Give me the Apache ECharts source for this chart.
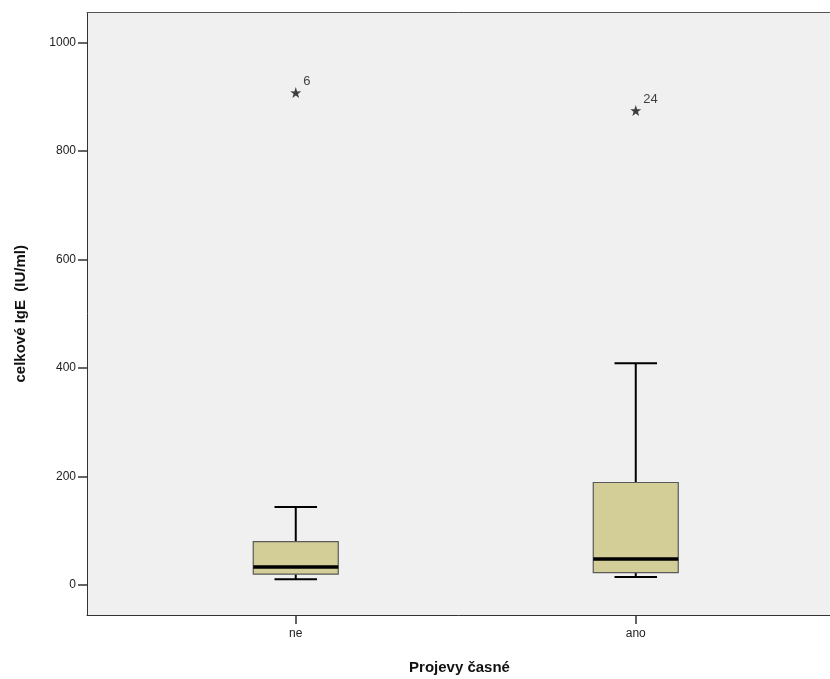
<!DOCTYPE html>
<html>
<head>
<meta charset="utf-8">
<script src="https://cdn.jsdelivr.net/npm/echarts@6/dist/echarts.min.js"></script>
<style>html,body{margin:0;padding:0;background:#fff;}#c{width:830px;height:679px;}</style>
</head>
<body>
<div id="c"></div>
<script>
var categories = ['ne', 'ano'];
// [min, Q1, median, Q3, max]
var boxValues = [
  [10.5, 20, 33, 80, 144],
  [15, 23, 48, 189, 409]
];
var outliers = [
  [0, 908, '6'],
  [1, 875, '24']
];
var yTicks = [0, 200, 400, 600, 800, 1000];

var boxData = boxValues.map(function (v, i) { return [i].concat(v); });

var chart = echarts.init(document.getElementById('c'), null, {renderer: 'canvas'});
var font = '"Liberation Sans", Arial, sans-serif';
var starPath = 'path://M50,0 L61.8,35.3 L97.6,34.5 L68.8,56.2 L79.4,90.5 L50,69.8 L20.6,90.5 L31.2,56.2 L2.4,34.5 L38.2,35.3 Z';
var gridW = 745;

chart.setOption({
  animation: false,
  backgroundColor: '#ffffff',
  grid: {
    left: 87, top: 12.5, width: gridW, height: 602.5,
    outerBoundsMode: 'none', containLabel: false,
    show: true, backgroundColor: '#f0f0f0', borderWidth: 0
  },
  xAxis: [{
    type: 'value',
    min: -0.614, max: -0.614 + gridW / 340,
    name: 'Projevy časné',
    nameLocation: 'middle',
    nameGap: 45,
    nameTextStyle: {fontFamily: font, fontSize: 15, fontWeight: 'bold', color: '#111'},
    axisLine: {show: true, onZero: false, lineStyle: {color: '#333', width: 1}},
    axisTick: {show: true, length: 9, customValues: [0, 1], lineStyle: {color: '#333', width: 1.5}},
    axisLabel: {
      customValues: [0, 1], fontFamily: font, fontSize: 12, color: '#222', margin: 13,
      formatter: function (v) { return categories[Math.round(v)] || ''; }
    },
    splitLine: {show: false}
  }, {
    type: 'value', position: 'top',
    min: -0.614, max: -0.614 + gridW / 340,
    axisLine: {show: true, onZero: false, lineStyle: {color: '#555', width: 1}},
    axisTick: {show: false}, axisLabel: {show: false}, splitLine: {show: false}
  }],
  yAxis: {
    type: 'value',
    min: -55.3, max: 1055.7,
    name: 'celkové IgE  (IU/ml)',
    nameLocation: 'middle',
    nameGap: 59,
    nameTextStyle: {fontFamily: font, fontSize: 15, fontWeight: 'bold', color: '#111'},
    axisLine: {show: true, onZero: false, lineStyle: {color: '#333', width: 1}},
    axisTick: {show: true, length: 9, customValues: yTicks, lineStyle: {color: '#333', width: 1.5}},
    axisLabel: {
      customValues: yTicks, fontFamily: font, fontSize: 12, color: '#222', margin: 11,
      formatter: function (v) { return String(v); }
    },
    splitLine: {show: false}
  },
  series: [
    {
      type: 'custom',
      data: boxData,
      renderItem: function (params, api) {
        var x = api.value(0);
        var pMin = api.coord([x, api.value(1)]);
        var pQ1 = api.coord([x, api.value(2)]);
        var pMed = api.coord([x, api.value(3)]);
        var pQ3 = api.coord([x, api.value(4)]);
        var pMax = api.coord([x, api.value(5)]);
        var w = api.size([0.25, 0])[0];
        var cx = pMed[0];
        var half = w / 2, capHalf = w / 4;
        var ln = function (x1, y1, x2, y2, lw) {
          return {type: 'line', shape: {x1: x1, y1: y1, x2: x2, y2: y2},
            style: {stroke: '#000', lineWidth: lw}};
        };
        return {
          type: 'group',
          children: [
            ln(cx, pMax[1], cx, pQ3[1], 2),
            ln(cx, pQ1[1], cx, pMin[1], 2),
            ln(cx - capHalf, pMax[1], cx + capHalf, pMax[1], 2),
            ln(cx - capHalf, pMin[1], cx + capHalf, pMin[1], 2),
            {type: 'rect', shape: {x: cx - half, y: pQ3[1], width: w, height: pQ1[1] - pQ3[1]},
              style: {fill: '#d3ce97', stroke: '#5a5a5a', lineWidth: 1.2}},
            ln(cx - half, pMed[1], cx + half, pMed[1], 3.5)
          ]
        };
      }
    },
    {
      type: 'scatter',
      data: outliers.map(function (o) { return {value: [o[0], o[1]], name: o[2]}; }),
      symbol: starPath,
      symbolSize: 11,
      itemStyle: {color: '#111'},
      label: {
        show: true, position: 'right', offset: [-3, -11],
        formatter: function (p) { return p.name; },
        fontFamily: font, fontSize: 13, color: '#111'
      }
    }
  ]
});
</script>
</body>
</html>
